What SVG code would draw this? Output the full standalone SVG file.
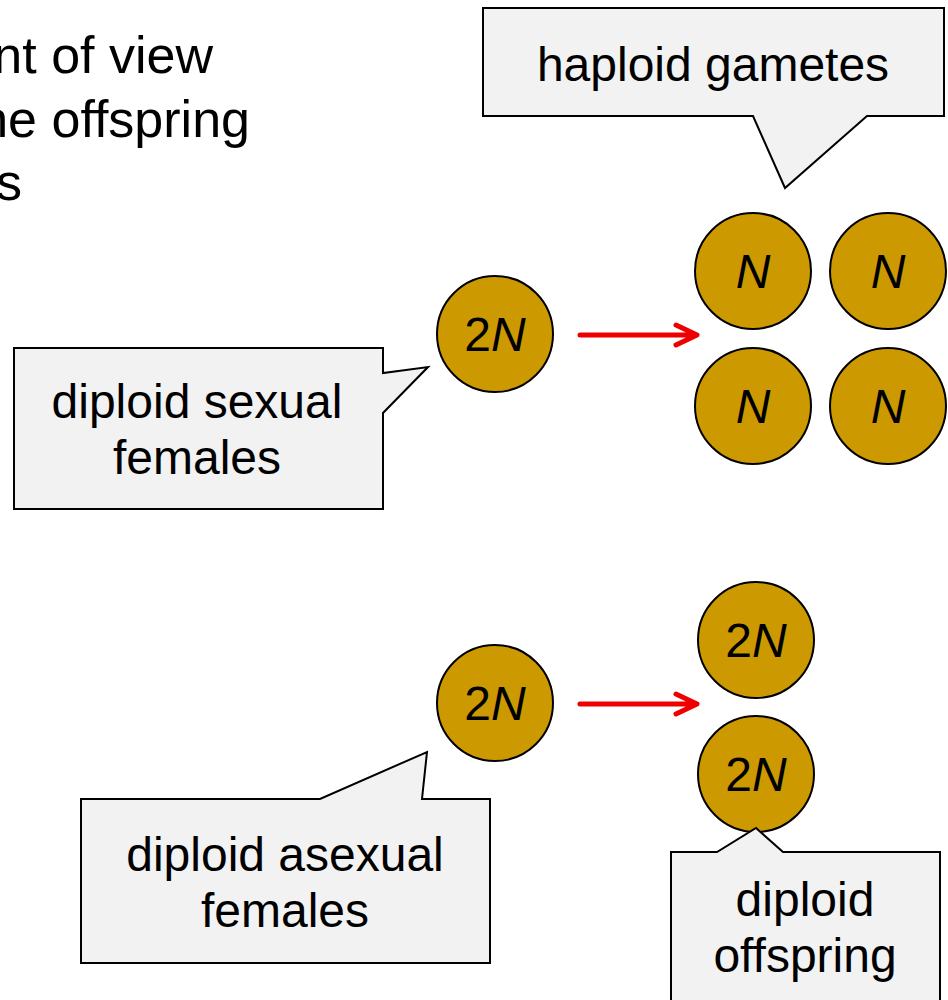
<svg xmlns="http://www.w3.org/2000/svg" width="948" height="1000" viewBox="0 0 948 1000">
<style>
text{font-family:"Liberation Sans",Arial,sans-serif;font-size:48px;fill:#000}
.t{font-size:52px}
.c{text-anchor:middle}
.cell{fill:#cc9900;stroke:#000;stroke-width:2}
.call{fill:#f2f2f2;stroke:#000;stroke-width:2;stroke-linejoin:miter}
.arr{fill:none;stroke:#ee0000;stroke-width:5;stroke-linecap:round;stroke-linejoin:round}
</style>
<rect width="948" height="1000" fill="#fff"/>
<g id="title">
<text class="t" x="213" y="73" text-anchor="end">nt of view</text>
<text class="t" x="250" y="137" text-anchor="end">he offspring</text>
<text class="t" x="22" y="200" text-anchor="end">s</text>
</g>
<g id="sexual-female">
<circle class="cell" cx="495" cy="334" r="58"/>
<text class="c" x="495" y="351">2<tspan font-style="italic">N</tspan></text>
</g>
<g id="gamete-1"><circle class="cell" cx="753" cy="271" r="58"/><text class="c" x="753" y="288" font-style="italic">N</text></g>
<g id="gamete-2"><circle class="cell" cx="888" cy="271" r="58"/><text class="c" x="888" y="288" font-style="italic">N</text></g>
<g id="gamete-3"><circle class="cell" cx="753" cy="406" r="58"/><text class="c" x="753" y="423" font-style="italic">N</text></g>
<g id="gamete-4"><circle class="cell" cx="888" cy="406" r="58"/><text class="c" x="888" y="423" font-style="italic">N</text></g>
<g id="asexual-female">
<circle class="cell" cx="495" cy="703" r="58"/>
<text class="c" x="495" y="720">2<tspan font-style="italic">N</tspan></text>
</g>
<g id="offspring-1"><circle class="cell" cx="756" cy="640" r="58"/><text class="c" x="756" y="657">2<tspan font-style="italic">N</tspan></text></g>
<g id="offspring-2"><circle class="cell" cx="756" cy="774" r="58"/><text class="c" x="756" y="791">2<tspan font-style="italic">N</tspan></text></g>
<g id="connectors">
<path class="arr" d="M580 335H696M676 325L697 335L676 345"/>
<path class="arr" d="M580 704H696M676 694L697 704L676 714"/>
</g>
<g id="callout-haploid">
<path class="call" d="M483 8H944V116H867L785 188L753 116H483Z"/>
<text class="c" x="713" y="81">haploid gametes</text>
</g>
<g id="callout-sexual">
<path class="call" d="M14 348H383V373L428 367L383 413V509H14Z"/>
<text class="c" x="197" y="418">diploid sexual</text>
<text class="c" x="197" y="474">females</text>
</g>
<g id="callout-asexual">
<path class="call" d="M81 799H320L427 752L422 799H490V963H81Z"/>
<text class="c" x="285" y="871">diploid asexual</text>
<text class="c" x="285" y="927">females</text>
</g>
<g id="callout-offspring">
<path class="call" d="M671 852H717L756 828L783 852H940V1010H671Z"/>
<text class="c" x="805" y="916">diploid</text>
<text class="c" x="805" y="972">offspring</text>
</g>
</svg>
